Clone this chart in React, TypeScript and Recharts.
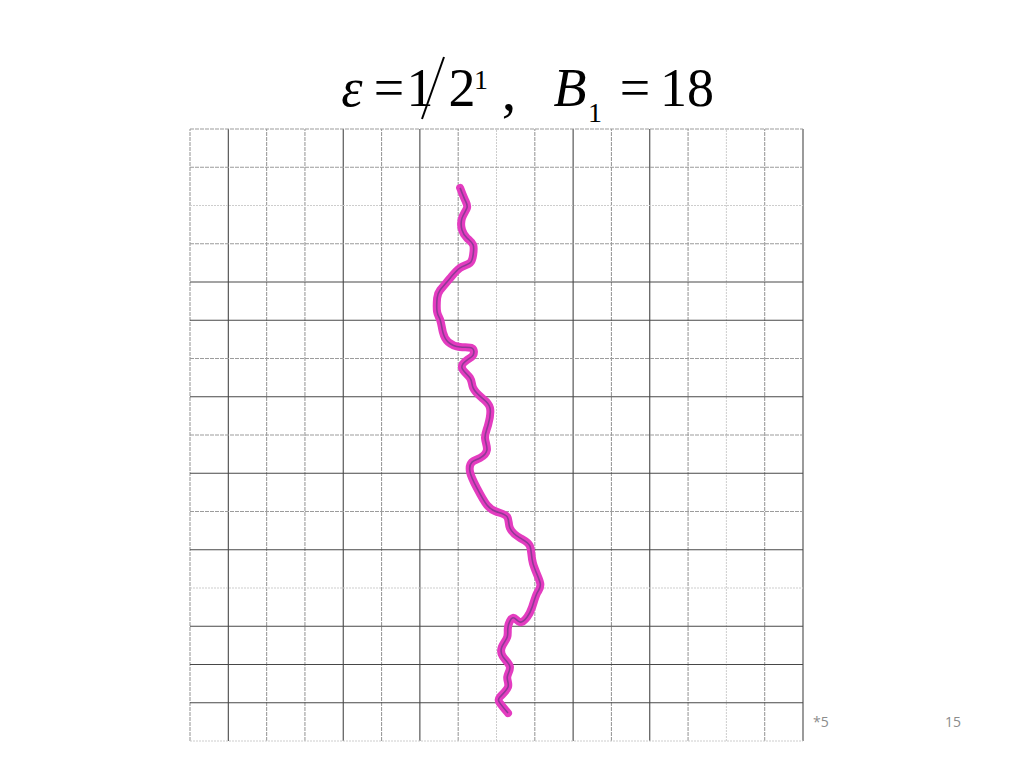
import React from "react";
import { LineChart, Line, XAxis, YAxis, ReferenceLine } from "recharts";

// Random-walk path, in grid units (16 x 16 grid, y measured upward)
const walkX = [
  7.05, 7.18, 7.23, 7.1, 7.1, 7.23, 7.39, 7.39, 7.31, 7.05, 6.79, 6.53, 6.45, 6.45,
  6.53, 6.6, 6.74, 7.05, 7.36, 7.39, 7.23, 7.1, 7.31, 7.39, 7.62, 7.83, 7.78, 7.7,
  7.75, 7.57, 7.36, 7.31, 7.49, 7.75, 8.01, 8.28, 8.35, 8.61, 8.87, 8.95, 9.14, 9.06,
  8.93, 8.8, 8.61, 8.43, 8.3, 8.28, 8.14, 8.17, 8.35, 8.28, 8.3, 8.09, 8.09, 8.3,
];
const walkY = [
  14.46, 14.14, 13.94, 13.67, 13.36, 13.15, 12.97, 12.71, 12.5, 12.37, 12.1, 11.79,
  11.58, 11.22, 11.01, 10.69, 10.43, 10.3, 10.27, 10.09, 9.96, 9.75, 9.49, 9.23,
  8.97, 8.71, 8.26, 7.92, 7.61, 7.4, 7.29, 7.03, 6.61, 6.17, 5.99, 5.86, 5.57, 5.31,
  5.1, 4.65, 4.13, 3.87, 3.5, 3.24, 3.11, 3.22, 2.98, 2.72, 2.46, 2.2, 1.94, 1.67,
  1.41, 1.15, 0.99, 0.73,
];
const gridTicks = [0, 1, 2, 3, 4, 5, 6, 7, 8, 9, 10, 11, 12, 13, 14, 15, 16];

// line styles of the scanned paper grid (d = dark, m = medium, l = light)
const vStyle = "mdmmdmdmlmdmdmlmd";
const hStyleFromBottom = "ldddldmdmdmddmlmm";

const styles: Record<string, { stroke: string; width: number; dash?: string }> = {
  d: { stroke: "#484848", width: 1.1 },
  m: { stroke: "#9c9c9c", width: 1.1, dash: "4 1" },
  l: { stroke: "#cdcdcd", width: 1, dash: "2 1" },
};

const data = walkX.map((x, i) => ({ x, y: walkY[i] }));

const serif = "Liberation Serif, DejaVu Serif, serif";

export default function App() {
  return (
    <div style={{ position: "absolute", left: 0, top: 0, width: 1024, height: 768, background: "#fff" }}>
      <LineChart
        width={1024}
        height={768}
        data={data}
        margin={{ top: 129, right: 221, bottom: 27, left: 190 }}
      >
        <XAxis type="number" dataKey="x" domain={[0, 16]} hide />
        <YAxis type="number" domain={[0, 16]} hide />
        {gridTicks.map((t) => {
          const s = styles[vStyle[t]];
          return (
            <ReferenceLine
              key={"v" + t}
              x={t}
              stroke={s.stroke}
              strokeWidth={s.width}
              strokeDasharray={s.dash}
            />
          );
        })}
        {gridTicks.map((t) => {
          const s = styles[hStyleFromBottom[t]];
          return (
            <ReferenceLine
              key={"h" + t}
              y={t}
              stroke={s.stroke}
              strokeWidth={s.width}
              strokeDasharray={s.dash}
            />
          );
        })}
        <Line
          type="natural"
          dataKey="y"
          stroke="#e43cc0"
          strokeWidth={8}
          strokeLinecap="round"
          strokeLinejoin="round"
          dot={false}
          isAnimationActive={false}
        />
        <Line
          type="natural"
          dataKey="y"
          stroke="#8e3a94"
          strokeWidth={1.6}
          dot={false}
          isAnimationActive={false}
        />
      </LineChart>
      <svg
        width={1024}
        height={768}
        style={{ position: "absolute", left: 0, top: 0, pointerEvents: "none" }}
      >
        <g style={{ fontFamily: serif }} fill="#000" textAnchor="middle">
          <text x={352} y={106} fontSize={54} fontStyle="italic">ε</text>
          <text x={389} y={106} fontSize={54}>=</text>
          <text x={420} y={106} fontSize={54}>1</text>
          <line x1={444} y1={57} x2={422} y2={119} stroke="#000" strokeWidth={2} />
          <text x={462} y={106} fontSize={54}>2</text>
          <text x={481} y={89} fontSize={28}>1</text>
          <text x={509} y={110} fontSize={58}>,</text>
          <text x={570} y={106} fontSize={54} fontStyle="italic">B</text>
          <text x={595} y={122} fontSize={28}>1</text>
          <text x={635} y={106} fontSize={54}>=</text>
          <text x={687} y={106} fontSize={54}>18</text>
        </g>
        <g style={{ fontFamily: "Open Sans, Liberation Sans, sans-serif" }} fill="#8c8c8c" fontSize={14}>
          <text x={813} y={727}>*5</text>
          <text x={945} y={727}>15</text>
        </g>
      </svg>
    </div>
  );
}
